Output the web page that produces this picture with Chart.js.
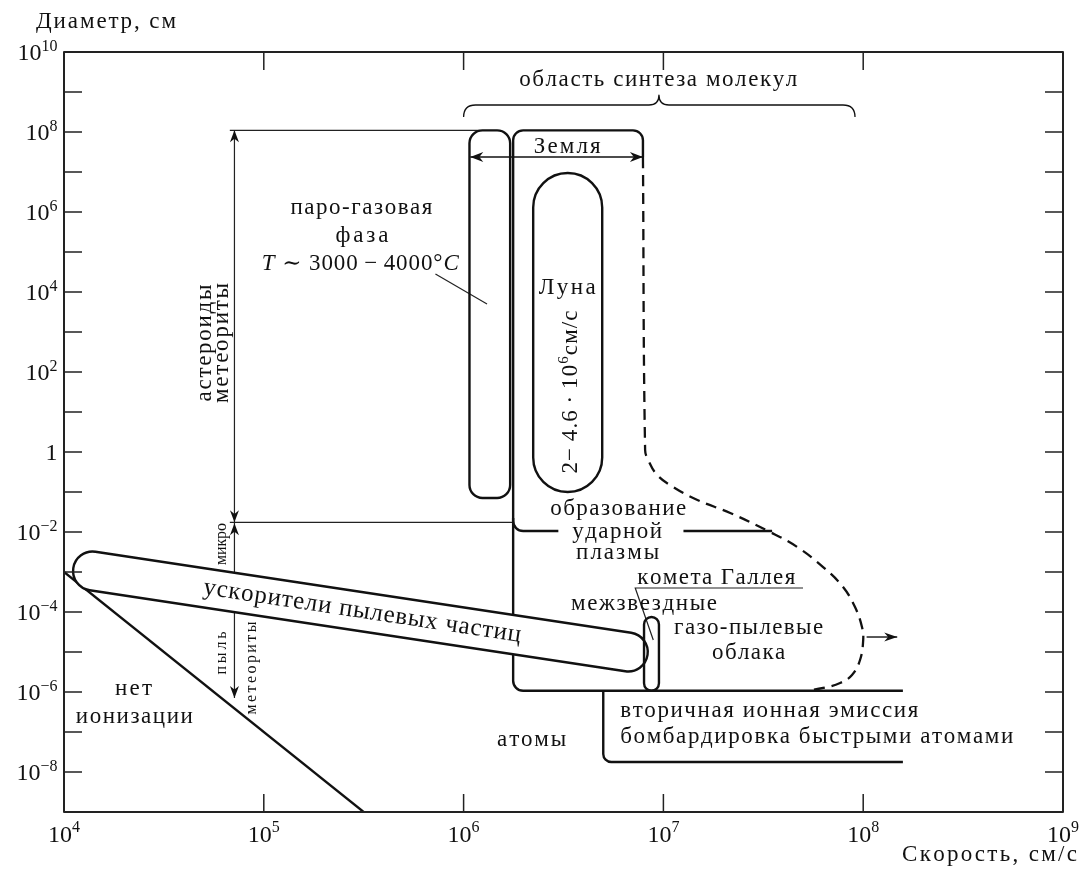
<!DOCTYPE html>
<html>
<head>
<meta charset="utf-8">
<script src="https://cdn.jsdelivr.net/npm/chart.js@4/dist/chart.umd.min.js"></script>
<style>
  html, body { margin: 0; padding: 0; background: #fff; }
  canvas { display: block; }
</style>
</head>
<body>
<canvas id="c" width="1079" height="875"></canvas>
<script>
// ---- Axis decades and tick labels -------------------------------------
const speedDecades = [1e4, 1e5, 1e6, 1e7, 1e8, 1e9];
const speedTickLabels = [['10', '4'], ['10', '5'], ['10', '6'], ['10', '7'], ['10', '8'], ['10', '9']];
const diameterDecades = [1e-9, 1e-8, 1e-7, 1e-6, 1e-5, 1e-4, 1e-3, 1e-2, 1e-1, 1,
                         1e1, 1e2, 1e3, 1e4, 1e5, 1e6, 1e7, 1e8, 1e9, 1e10];
const diameterLabelValues = [1e10, 1e8, 1e6, 1e4, 1e2, 1, 1e-2, 1e-4, 1e-6, 1e-8];
const diameterTickLabels = [['10', '10'], ['10', '8'], ['10', '6'], ['10', '4'], ['10', '2'],
                            ['1', ''], ['10', '\u22122'], ['10', '\u22124'], ['10', '\u22126'], ['10', '\u22128']];

// ---- Ionisation threshold (D ~ v^-4) -----------------------------------
const ionV = [1e4, 3.16e5];
const ionD = [1e-3, 1e-9];

// ---- Earth impact region: dashed high-speed boundary -------------------
const contourV = [7.9e6, 8.1e6, 8.39e6, 9.31e6, 1.12e7, 1.48e7, 2.16e7, 3.42e7, 4.67e7, 6.30e7,
                  7.93e7, 9.10e7, 9.86e7, 1.0e8, 9.64e7, 8.79e7, 7.66e7, 6.30e7, 5.24e7];
const contourD = [2.37e7, 1.12, 0.631, 0.266, 0.133, 0.0631, 0.0299, 0.01, 4.22e-3, 1.33e-3,
                  4.22e-4, 1.33e-4, 4.22e-5, 2.0e-5, 6.31e-6, 2.66e-6, 1.68e-6, 1.26e-6, 1.08e-6];

// ---- Earth impact region: solid outline --------------------------------
const earthV = [7.9e6, 7.9e6, 1.77e6, 1.77e6, 1.58e8];
const earthD = [2.37e7, 1.1e8, 1.1e8, 1.07e-6, 1.07e-6];

// ---- Shock plasma boundary ---------------------------------------------
const plasmaV = [1.77e6, 1.77e6, 2.98e6];
const plasmaD = [0.0224, 0.0106, 0.0106];
const plasmaTailV = [1.26e7, 3.5e7];
const plasmaTailD = [0.0106, 0.0106];

// ---- Secondary ion emission / fast-atom bombardment --------------------
const emissionV = [5.0e6, 5.0e6, 1.58e8];
const emissionD = [1.07e-6, 1.78e-8, 1.78e-8];

// ---- Vapour-gas phase strip, Moon and Halley ---------------------------
const vaporV = [1.07e6, 1.71e6];
const vaporD = [0.071, 1.1e8];
const moonV = [2.23e6, 4.94e6];
const moonD = [0.1, 9.44e6];
const halleyV = [8.0e6, 9.5e6];
const halleyD = [1.07e-6, 7.5e-5];

// ---- Dust accelerators band (axis end points) --------------------------
const accelV = [1.39e4, 6.67e6];
const accelD = [1.06e-3, 1.0e-5];

// ---- Asteroid / meteorite size ranges ----------------------------------
const rangeV = [7.13e4];
const rockRefV = [6.76e4, 1.2e6];
const rockRefD = [1.1e8, 1.1e8];
const microRefV = [6.76e4, 1.77e6];
const microRefD = [0.0175, 0.0175];
const rockSpanD = [1.1e8, 0.0175];
const microSpanD = [0.0175, 7.1e-7];

// ---- Earth speed span, escape arrow, leaders, brace --------------------
const earthSpanV = [1.08e6, 7.9e6];
const earthSpanD = [2.37e7, 2.37e7];
const escapeV = [1.04e8, 1.48e8];
const escapeD = [2.37e-5, 2.37e-5];
const tLeaderV = [7.23e5, 1.31e6];
const tLeaderD = [2.82e4, 5.0e3];
const halleyLeaderV = [5.0e7, 7.23e6, 8.9e6];
const halleyLeaderD = [3.98e-4, 3.98e-4, 2.0e-5];
const braceV = [1.0e6, 9.5e6, 9.1e7];
const braceD = [2.37e8, 4.73e8, 8.4e8];

// ------------------------------------------------------------------------
const INK = '#111';
const SERIF = '"Liberation Serif", "DejaVu Serif", serif';
const TXT = 23;

function pts(vs, ds) { return vs.map((v, i) => ({ x: v, y: ds[i] })); }
function line(vs, ds, extra) {
  return Object.assign({
    data: pts(vs, ds), showLine: true, pointRadius: 0, borderColor: INK,
    borderWidth: 2.3, tension: 0, fill: false
  }, extra || {});
}
const THIN = { borderWidth: 1.2, borderColor: '#222' };

const datasets = [
  line(ionV, ionD),
  line(contourV, contourD, { borderDash: [11, 7], tension: 0.4 }),
  line(plasmaTailV, plasmaTailD),
  line(rockRefV, rockRefD, THIN),
  line(microRefV, microRefD, THIN),
  line([rangeV[0], rangeV[0]], rockSpanD, THIN),
  line([rangeV[0], rangeV[0]], microSpanD, THIN),
  line(earthSpanV, earthSpanD, { borderWidth: 1.4 }),
  line(escapeV, escapeD, { borderWidth: 1.4 }),
  line(tLeaderV, tLeaderD, THIN),
  line(halleyLeaderV, halleyLeaderD, THIN)
];

// Draws a text run char by char so that it can be spread to a given width
function drawText(ctx, parts, cx, cy, o) {
  const size = o.size || TXT;
  if (typeof parts === 'string') parts = [{ t: parts }];
  const runs = [];
  let w0 = 0;
  for (const p of parts) {
    const fs = p.sup ? Math.round(size * 0.67) : size;
    const font = (p.it ? 'italic ' : '') + fs + 'px ' + SERIF;
    ctx.font = font;
    for (const ch of p.t) {
      const w = ctx.measureText(ch).width;
      runs.push({ ch, font, w, dy: p.sup ? -size * 0.4 : 0 });
      w0 += w;
    }
  }
  const n = runs.length;
  const sp = o.width && n > 1 ? (o.width - w0) / (n - 1) : 0;
  const total = w0 + sp * (n - 1);
  ctx.save();
  ctx.translate(cx, cy);
  if (o.angle) ctx.rotate(o.angle);
  let xx = o.align === 'left' ? 0 : o.align === 'right' ? -total : -total / 2;
  const base = (o.k !== undefined ? o.k : 0.25) * size;
  ctx.textAlign = 'left';
  ctx.textBaseline = 'alphabetic';
  ctx.fillStyle = INK;
  for (const r of runs) {
    ctx.font = r.font;
    ctx.fillText(r.ch, xx, base + r.dy);
    xx += r.w + sp;
  }
  ctx.restore();
}

function roundPath(ctx, p, r) {
  ctx.beginPath();
  ctx.moveTo(p[0].x, p[0].y);
  for (let i = 1; i < p.length - 1; i++) ctx.arcTo(p[i].x, p[i].y, p[i + 1].x, p[i + 1].y, r);
  ctx.lineTo(p[p.length - 1].x, p[p.length - 1].y);
}

function roundBox(ctx, x0, y0, x1, y1, r) {
  ctx.beginPath();
  ctx.moveTo(x0 + r, y0);
  ctx.arcTo(x1, y0, x1, y1, r);
  ctx.arcTo(x1, y1, x0, y1, r);
  ctx.arcTo(x0, y1, x0, y0, r);
  ctx.arcTo(x0, y0, x1, y0, r);
  ctx.closePath();
}

function arrowHead(ctx, x, y, ang, len, half) {
  len = len || 12; half = half || 4.5;
  const c = Math.cos(ang), s = Math.sin(ang);
  const bx = x - c * len, by = y - s * len;
  const nx = x - c * len * 0.7, ny = y - s * len * 0.7;
  ctx.beginPath();
  ctx.moveTo(x, y);
  ctx.lineTo(bx - s * half, by + c * half);
  ctx.lineTo(nx, ny);
  ctx.lineTo(bx + s * half, by - c * half);
  ctx.closePath();
  ctx.fill();
}

const labels = [
  { t: 'область синтеза молекул', v: 9.42e6, d: 2.0e9, w: 278 },
  { t: 'Земля', v: 3.3e6, d: 4.47e7, w: 67, k: 0.3 },
  { t: 'паро-газовая', v: 3.08e5, d: 1.26e6, w: 142 },
  { t: 'фаза', v: 3.1e5, d: 2.51e5, w: 53 },
  { t: [{ t: 'T', it: true }, { t: ' \u223C 3000\u2009\u2212\u20094000\u00B0' }, { t: 'C', it: true }],
    v: 3.04e5, d: 5.62e4, w: 197, k: 0.33 },
  { t: 'Луна', v: 3.3e6, d: 1.33e4, w: 57, k: 0.3 },
  { t: [{ t: '2\u2212\u20094.6\u2009\u00B7\u200910' }, { t: '6', sup: true }, { t: 'см/с' }],
    v: 3.42e6, d: 31.6, w: 163, rot: true, k: 0.3 },
  { t: 'образование', v: 5.94e6, d: 0.0376, w: 136 },
  { t: 'ударной', v: 5.87e6, d: 0.01, w: 90 },
  { t: 'плазмы', v: 5.9e6, d: 2.99e-3, w: 83 },
  { t: 'комета Галлея', v: 1.84e7, d: 7.5e-4, w: 158, k: 0.3 },
  { t: 'межзвездные', v: 8.0e6, d: 1.58e-4, w: 146 },
  { t: 'газо-пылевые', v: 2.67e7, d: 3.98e-5, w: 149 },
  { t: 'облака', v: 2.67e7, d: 9.44e-6, w: 73 },
  { t: 'атомы', v: 2.19e6, d: 6.31e-8, w: 69 },
  { t: 'вторичная ионная эмиссия', v: 6.08e6, d: 3.35e-7, w: 298, align: 'left' },
  { t: 'бомбардировка быстрыми атомами', v: 6.08e6, d: 7.5e-8, w: 393, align: 'left' },
  { t: 'нет', v: 2.23e4, d: 1.19e-6, w: 37 },
  { t: 'ионизации', v: 2.25e4, d: 2.37e-7, w: 117 },
  { t: 'астероиды', v: 5.1e4, d: 531, w: 117, rot: true },
  { t: 'метеориты', v: 6.21e4, d: 531, w: 120, rot: true },
  { t: 'микро', v: 6.21e4, d: 5.0e-3, w: 42, rot: true, size: 16 },
  { t: 'пыль', v: 6.21e4, d: 9.44e-6, w: 43, rot: true, size: 16 },
  { t: 'метеориты', v: 8.77e4, d: 3.98e-6, w: 93, rot: true, size: 16 }
];

const diagram = {
  id: 'diagram',
  beforeDraw(chart) {
    const c = chart.ctx;
    c.save(); c.fillStyle = '#fff'; c.fillRect(0, 0, chart.width, chart.height); c.restore();
  },
  afterDatasetsDraw(chart) {
    const { ctx, chartArea: a, scales } = chart;
    const X = v => scales.x.getPixelForValue(v);
    const Y = d => scales.y.getPixelForValue(d);
    const P = (vs, ds) => vs.map((v, i) => ({ x: X(v), y: Y(ds[i]) }));
    ctx.save();
    ctx.strokeStyle = INK;
    ctx.fillStyle = INK;
    ctx.lineJoin = 'round';

    // vapour-gas strip
    ctx.lineWidth = 2.4;
    roundBox(ctx, X(vaporV[0]), Y(vaporD[1]), X(vaporV[1]), Y(vaporD[0]), 13);
    ctx.stroke();
    // Moon
    {
      const x0 = X(moonV[0]), x1 = X(moonV[1]);
      roundBox(ctx, x0, Y(moonD[1]), x1, Y(moonD[0]), (x1 - x0) / 2);
      ctx.stroke();
    }
    // Earth outline
    roundPath(ctx, P(earthV, earthD), 10); ctx.stroke();
    roundPath(ctx, P(plasmaV, plasmaD), 10); ctx.stroke();
    roundPath(ctx, P(emissionV, emissionD), 8); ctx.stroke();

    // dust accelerators band (white-filled, covers the range line)
    {
      const A = { x: X(accelV[0]), y: Y(accelD[0]) };
      const B = { x: X(accelV[1]), y: Y(accelD[1]) };
      const th = Math.atan2(B.y - A.y, B.x - A.x);
      const r = 19.5;
      ctx.beginPath();
      ctx.arc(B.x, B.y, r, th - Math.PI / 2, th + Math.PI / 2);
      ctx.arc(A.x, A.y, r, th + Math.PI / 2, th + 3 * Math.PI / 2);
      ctx.closePath();
      ctx.fillStyle = '#fff';
      ctx.fill();
      ctx.stroke();
      ctx.fillStyle = INK;
      const lx = X(3.11e5);
      const ly = A.y + (lx - A.x) * Math.tan(th);
      drawText(ctx, 'ускорители пылевых частиц', lx, ly, { size: 25, width: 321, angle: th, k: 0.25 });
    }

    // Halley
    {
      const x0 = X(halleyV[0]), x1 = X(halleyV[1]);
      roundBox(ctx, x0, Y(halleyD[1]), x1, Y(halleyD[0]), (x1 - x0) / 2);
      ctx.stroke();
    }

    // arrowheads
    const rx = X(rangeV[0]);
    arrowHead(ctx, rx, Y(rockSpanD[0]), -Math.PI / 2);
    arrowHead(ctx, rx, Y(rockSpanD[1]), Math.PI / 2);
    arrowHead(ctx, rx, Y(microSpanD[0]) + 1, -Math.PI / 2);
    arrowHead(ctx, rx, Y(microSpanD[1]), Math.PI / 2);
    arrowHead(ctx, X(earthSpanV[0]), Y(earthSpanD[0]), Math.PI, 13, 5);
    arrowHead(ctx, X(earthSpanV[1]), Y(earthSpanD[1]), 0, 13, 5);
    arrowHead(ctx, X(escapeV[1]), Y(escapeD[1]), 0, 13, 4.5);

    // brace over the molecule synthesis range
    {
      const b0 = X(braceV[0]), bt = X(braceV[1]), b1 = X(braceV[2]);
      const ye = Y(braceD[0]), ym = Y(braceD[1]), yt = Y(braceD[2]);
      ctx.lineWidth = 1.3;
      ctx.beginPath();
      ctx.moveTo(b0, ye);
      ctx.quadraticCurveTo(b0, ym, b0 + 12, ym);
      ctx.lineTo(bt - 10, ym);
      ctx.quadraticCurveTo(bt, ym, bt, yt);
      ctx.quadraticCurveTo(bt, ym, bt + 10, ym);
      ctx.lineTo(b1 - 12, ym);
      ctx.quadraticCurveTo(b1, ym, b1, ye);
      ctx.stroke();
    }

    // labels
    for (const L of labels) {
      drawText(ctx, L.t, X(L.v), Y(L.d), {
        size: L.size || TXT, width: L.w, align: L.align, k: L.k,
        angle: L.rot ? -Math.PI / 2 : 0
      });
    }

    // frame and inward ticks
    ctx.strokeStyle = '#222';
    ctx.lineWidth = 1.5;
    const T = 18;
    ctx.beginPath();
    for (const v of speedDecades) {
      const xx = X(v);
      ctx.moveTo(xx, a.bottom); ctx.lineTo(xx, a.bottom - T);
      ctx.moveTo(xx, a.top); ctx.lineTo(xx, a.top + T);
    }
    for (const d of diameterDecades) {
      const yy = Y(d);
      ctx.moveTo(a.left, yy); ctx.lineTo(a.left + T, yy);
      ctx.moveTo(a.right, yy); ctx.lineTo(a.right - T, yy);
    }
    ctx.stroke();
    ctx.lineWidth = 2;
    ctx.strokeRect(a.left, a.top, a.right - a.left, a.bottom - a.top);

    // tick labels
    speedDecades.forEach((v, i) => {
      const [b, s] = speedTickLabels[i];
      drawText(ctx, [{ t: b }, { t: s, sup: true }], X(v), a.bottom + 21.5, { size: 24, k: 0.34 });
    });
    diameterLabelValues.forEach((d, i) => {
      const [b, s] = diameterTickLabels[i];
      const parts = s ? [{ t: b }, { t: s, sup: true }] : [{ t: b }];
      drawText(ctx, parts, a.left - 6.5, Y(d), { size: 24, k: 0.34, align: 'right' });
    });

    // axis titles
    drawText(ctx, 'Диаметр, см', a.left + 42, a.top - 30, { size: TXT, width: 140 });
    drawText(ctx, 'Скорость, см/с', a.right + 14, a.bottom + 43, { size: TXT, width: 175, align: 'right' });

    ctx.restore();
  }
};

new Chart(document.getElementById('c'), {
  type: 'scatter',
  data: { datasets },
  options: {
    responsive: false,
    animation: false,
    devicePixelRatio: 1,
    layout: { padding: { left: 64, right: 16, top: 52, bottom: 63 } },
    plugins: { legend: { display: false }, tooltip: { enabled: false } },
    events: [],
    scales: {
      x: { type: 'logarithmic', min: 1e4, max: 1e9, display: false },
      y: { type: 'logarithmic', min: 1e-9, max: 1e10, display: false }
    }
  },
  plugins: [diagram]
});
</script>
</body>
</html>
